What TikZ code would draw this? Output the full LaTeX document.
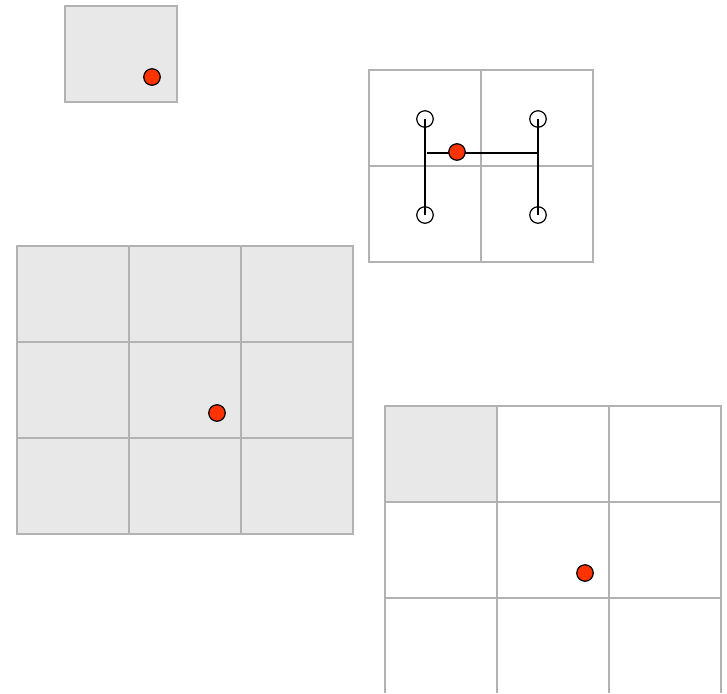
\documentclass[tikz,border=0pt]{standalone}
\usepackage{xcolor}
\usepackage{tikz}
\usetikzlibrary{positioning}
\definecolor{cellfill}{RGB}{232,232,232}
\definecolor{gridgray}{RGB}{178,178,178}
\definecolor{pointred}{RGB}{255,51,0}

\begin{document}
\begin{tikzpicture}[
  x=1pt,y=-1pt,
  cell/.style={rectangle,draw=gridgray,line width=1.5pt,minimum width=112pt,minimum height=96pt,inner sep=0pt,outer sep=0pt},
  shaded/.style={cell,fill=cellfill},
  blank/.style={cell,fill=white},
  redpt/.style={circle,draw=black,fill=pointred,line width=1.2pt,minimum size=16.5pt,inner sep=0pt},
  openpt/.style={circle,draw=black,fill=white,line width=1.2pt,minimum size=16.5pt,inner sep=0pt},
  link/.style={line width=1.6pt,draw=black}
]
  \useasboundingbox (0,0) rectangle (727,693);
  \clip (0,0) rectangle (727,692.5);

  % single cell
  \node[shaded] (a) at (121,54) {};
  \node[redpt] (pa) at (152,77) {};

  % 2x2 grid with the four neighbours
  \foreach \i in {0,1}
    \foreach \j in {0,1}
      \node[blank] (b\i\j) at (425+112*\i,118+96*\j) {};
  \node[openpt] (n00) at (425,119) {};
  \node[openpt] (n10) at (538,119) {};
  \node[openpt] (n01) at (425,215) {};
  \node[openpt] (n11) at (538,215) {};
  \draw[link] (n00.center) -- (n01.center);
  \draw[link] (n10.center) -- (n11.center);
  \coordinate (hl) at (427,153);
  \coordinate (hr) at (538,153);
  \draw[link] (hl) -- (hr);
  \node[redpt] (pb) at (457,152) {};

  % 3x3 filled grid
  \foreach \i in {0,1,2}
    \foreach \j in {0,1,2}
      \node[shaded] (c\i\j) at (73+112*\i,294+96*\j) {};
  \node[redpt] (pc) at (217,413) {};

  % 3x3 grid, first cell filled
  \foreach \i in {0,1,2}
    \foreach \j in {0,1,2}
      \node[blank] (d\i\j) at (441+112*\i,454+96*\j) {};
  \node[shaded] at (d00) {};
  \node[redpt] (pd) at (585,573) {};
\end{tikzpicture}
\end{document}
